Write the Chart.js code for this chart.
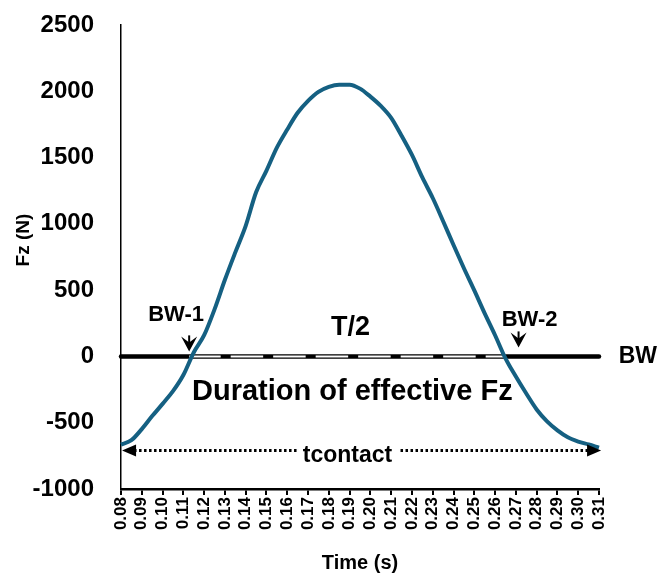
<!DOCTYPE html>
<html>
<head>
<meta charset="utf-8">
<script src="https://cdn.jsdelivr.net/npm/chart.js@4.4.0/dist/chart.umd.min.js"></script>
<style>
  html, body { margin: 0; padding: 0; background: #fff; }
  #wrap { width: 658px; height: 575px; }
</style>
</head>
<body>
<div id="wrap"><canvas id="fzChart"></canvas></div>
<script>
// Tiempo (s) y fuerza vertical Fz (N)
const time = [
  0.080, 0.085, 0.090, 0.095, 0.100, 0.105, 0.110, 0.115, 0.120, 0.125,
  0.130, 0.135, 0.140, 0.145, 0.150, 0.155, 0.160, 0.165, 0.170, 0.175,
  0.180, 0.185, 0.190, 0.195, 0.200, 0.205, 0.210, 0.215, 0.220, 0.225,
  0.230, 0.235, 0.240, 0.245, 0.250, 0.255, 0.260, 0.265, 0.270, 0.275,
  0.280, 0.285, 0.290, 0.295, 0.300, 0.305, 0.310
];
const fz = [
  -665, -632, -548, -450, -358, -262, -140, 30, 160, 355,
  578, 785, 985, 1238, 1402, 1575, 1712, 1838, 1928, 1996,
  2034, 2050, 2050, 2020, 1960, 1890, 1800, 1665, 1520, 1350,
  1195, 1020, 840, 665, 498, 325, 160, -15, -152, -280,
  -400, -490, -558, -610, -642, -664, -688
];
const xTicks = [0.08, 0.09, 0.10, 0.11, 0.12, 0.13, 0.14, 0.15, 0.16, 0.17, 0.18, 0.19,
                0.20, 0.21, 0.22, 0.23, 0.24, 0.25, 0.26, 0.27, 0.28, 0.29, 0.30, 0.31];
const yTicks = [-1000, -500, 0, 500, 1000, 1500, 2000, 2500];

// Anotaciones (en unidades de los ejes)
const bwLevel = 0;
const bwCross = [0.1128, 0.2650];      // BW-1, BW-2
const contactLevel = -710;
const contactEnds = [0.0805, 0.3110];
const contactGap = [0.1648, 0.2145];
const labels = [
  { text: 'BW-1', t: 0.1065, v: 310, size: 22, align: 'center' },
  { text: 'BW-2', t: 0.2766, v: 272, size: 22, align: 'center' },
  { text: 'T/2', t: 0.1904, v: 219, size: 27, align: 'center' },
  { text: 'BW', t: 0.3195, v: 0, size: 23, align: 'left' },
  { text: 'Duration of effective Fz', t: 0.1913, v: -272, size: 29, align: 'center' },
  { text: 'tcontact', t: 0.1890, v: -745, size: 23, align: 'center' }
];
const markers = [ { t: 0.1128, v: 38 }, { t: 0.2713, v: 68 } ];

const FONT = '"Liberation Sans", Arial, sans-serif';

function drawMarker(ctx, px, py) {
  // punta de flecha hacia abajo con vástago
  ctx.beginPath();
  ctx.moveTo(px, py);
  ctx.lineTo(px - 8, py - 15);
  ctx.lineTo(px, py - 9);
  ctx.lineTo(px + 8, py - 15);
  ctx.closePath();
  ctx.fill();
  ctx.fillRect(px - 1, py - 16, 2, 8);
}

function drawArrowHead(ctx, px, py, dir) {
  ctx.beginPath();
  ctx.moveTo(px, py);
  ctx.lineTo(px + dir * 14, py - 6);
  ctx.lineTo(px + dir * 14, py + 6);
  ctx.closePath();
  ctx.fill();
}

const fzAnnotations = {
  id: 'fzAnnotations',
  beforeDatasetsDraw(chart) {
    const { ctx, scales: { x, y } } = chart;
    const yBW = y.getPixelForValue(bwLevel);
    const x0 = x.getPixelForValue(time[0]);
    const x1 = x.getPixelForValue(time[time.length - 1]);
    const xa = x.getPixelForValue(bwCross[0]);
    const xb = x.getPixelForValue(bwCross[1]);
    ctx.save();
    ctx.strokeStyle = '#000';
    ctx.lineWidth = 4.5;
    ctx.lineCap = 'round';
    ctx.beginPath();
    ctx.moveTo(x0, yBW);
    ctx.lineTo(x1, yBW);
    ctx.stroke();
    // tramo discontinuo entre BW-1 y BW-2
    ctx.strokeStyle = '#fff';
    ctx.lineWidth = 2;
    ctx.lineCap = 'butt';
    ctx.setLineDash([32.5, 10]);
    ctx.lineDashOffset = 1;
    ctx.beginPath();
    ctx.moveTo(xa, yBW);
    ctx.lineTo(xb, yBW);
    ctx.stroke();
    ctx.restore();
  },
  afterDatasetsDraw(chart) {
    const { ctx, scales: { x, y } } = chart;
    ctx.save();
    ctx.fillStyle = '#000';
    ctx.strokeStyle = '#000';

    markers.forEach(m => drawMarker(ctx, x.getPixelForValue(m.t), y.getPixelForValue(m.v)));

    // flecha de tcontact
    const ya = y.getPixelForValue(contactLevel);
    const xl = x.getPixelForValue(contactEnds[0]);
    const xr = x.getPixelForValue(contactEnds[1]);
    ctx.lineWidth = 3;
    ctx.setLineDash([2.5, 2.5]);
    ctx.beginPath();
    ctx.moveTo(xl + 12, ya);
    ctx.lineTo(x.getPixelForValue(contactGap[0]), ya);
    ctx.moveTo(x.getPixelForValue(contactGap[1]), ya);
    ctx.lineTo(xr - 12, ya);
    ctx.stroke();
    ctx.setLineDash([]);
    drawArrowHead(ctx, xl, ya, 1);
    drawArrowHead(ctx, xr, ya, -1);

    // textos
    ctx.textBaseline = 'middle';
    labels.forEach(l => {
      ctx.font = 'bold ' + l.size + 'px ' + FONT;
      ctx.textAlign = l.align;
      ctx.fillText(l.text, x.getPixelForValue(l.t), y.getPixelForValue(l.v));
    });

    // títulos de los ejes
    ctx.textAlign = 'center';
    ctx.font = 'bold 20px ' + FONT;
    ctx.fillText('Time (s)', (x.left + x.right) / 2, 563);
    ctx.translate(24, 240);
    ctx.rotate(-Math.PI / 2);
    ctx.font = 'bold 19px ' + FONT;
    ctx.fillText('Fz (N)', 0, 0);
    ctx.restore();
  }
};

new Chart(document.getElementById('fzChart'), {
  type: 'line',
  data: {
    datasets: [{
      data: time.map((t, i) => ({ x: t, y: fz[i] })),
      borderColor: '#156082',
      borderWidth: 4,
      pointRadius: 0,
      cubicInterpolationMode: 'monotone',
      clip: false
    }]
  },
  options: {
    responsive: true,
    maintainAspectRatio: false,
    animation: false,
    layout: { padding: { top: 25, right: 59, left: 0, bottom: 0 } },
    plugins: { legend: { display: false }, tooltip: { enabled: false } },
    scales: {
      x: {
        type: 'linear',
        min: 0.08,
        max: 0.31,
        afterBuildTicks: s => { s.ticks = xTicks.map(v => ({ value: v })); },
        afterFit: s => { s.height = 86; },
        grid: { drawOnChartArea: false, drawTicks: true, tickLength: 6, color: '#000', lineWidth: 2 },
        border: { color: '#000', width: 2.5 },
        ticks: {
          autoSkip: false, minRotation: 90, maxRotation: 90, padding: 2, color: '#000',
          font: { family: FONT, size: 17, weight: 'bold' },
          callback: v => v.toFixed(2)
        }
      },
      y: {
        min: -1000,
        max: 2500,
        afterBuildTicks: s => { s.ticks = yTicks.map(v => ({ value: v })); },
        afterFit: s => { s.width = 121; },
        grid: { display: false, drawTicks: true, tickLength: 25 },
        border: { color: '#000', width: 1.5 },
        ticks: {
          padding: 2, color: '#000',
          font: { family: FONT, size: 24, weight: 'bold' },
          callback: v => String(v)
        }
      }
    }
  },
  plugins: [fzAnnotations]
});
</script>
</body>
</html>
